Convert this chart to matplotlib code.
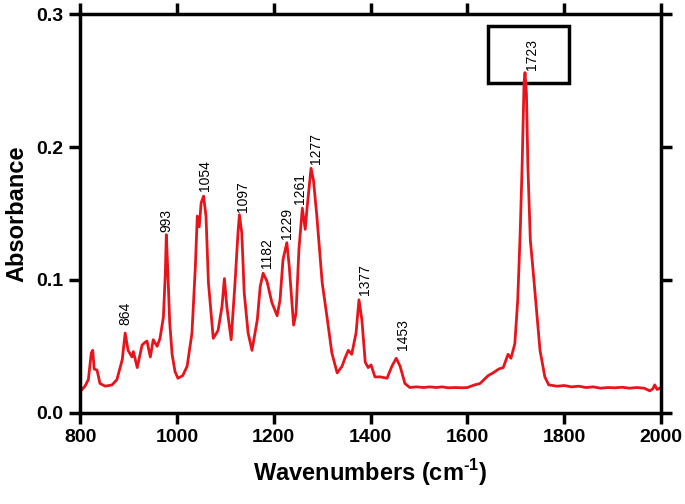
import numpy as np
import matplotlib.pyplot as plt
from matplotlib.patches import Rectangle

# spectrum
wavenumber = [800, 810, 817, 823, 826, 829, 835, 841, 852, 866, 876, 887, 893, 899,
              907, 910, 918, 928, 934, 938, 945, 951, 959, 965, 972, 976, 978, 981,
              985, 990, 996, 1002, 1012, 1021, 1031, 1038, 1042, 1046, 1050, 1055,
              1060, 1065, 1075, 1085, 1093, 1098, 1103, 1112, 1120, 1126, 1129, 1134,
              1139, 1147, 1155, 1166, 1172, 1178, 1186, 1196, 1207, 1213, 1219, 1227,
              1232, 1238, 1241, 1246, 1252, 1259, 1265, 1269, 1277, 1282, 1289, 1300,
              1310, 1320, 1331, 1341, 1347, 1354, 1361, 1370, 1376, 1382, 1389, 1395,
              1401, 1409, 1420, 1434, 1444, 1453, 1461, 1471, 1481, 1495, 1510, 1522,
              1535, 1548, 1560, 1575, 1590, 1600, 1615, 1626, 1643, 1653, 1665, 1674,
              1684, 1690, 1698, 1704, 1709, 1713, 1717, 1719, 1722, 1725, 1730, 1735,
              1744, 1750, 1760, 1768, 1785, 1800, 1815, 1830, 1845, 1860, 1875, 1890,
              1905, 1920, 1935, 1950, 1965, 1977, 1983, 1987, 1992, 2000]
absorbance = [0.016, 0.020, 0.025, 0.045, 0.047, 0.033, 0.032, 0.022, 0.020, 0.021,
              0.025, 0.040, 0.060, 0.047, 0.042, 0.046, 0.034, 0.051, 0.053, 0.054,
              0.042, 0.055, 0.050, 0.056, 0.072, 0.105, 0.134, 0.108, 0.068, 0.044,
              0.031, 0.026, 0.028, 0.035, 0.060, 0.110, 0.148, 0.140, 0.158, 0.163,
              0.148, 0.098, 0.056, 0.062, 0.080, 0.101, 0.080, 0.055, 0.098, 0.135,
              0.149, 0.135, 0.090, 0.060, 0.047, 0.070, 0.095, 0.105, 0.099, 0.083,
              0.073, 0.085, 0.115, 0.128, 0.110, 0.080, 0.066, 0.075, 0.123, 0.154,
              0.138, 0.155, 0.184, 0.175, 0.148, 0.098, 0.072, 0.045, 0.030, 0.035,
              0.041, 0.047, 0.044, 0.060, 0.085, 0.070, 0.038, 0.034, 0.036, 0.027,
              0.027, 0.026, 0.035, 0.041, 0.035, 0.022, 0.019, 0.0195, 0.019, 0.0195,
              0.019, 0.0195, 0.0188, 0.019, 0.0188, 0.019, 0.021, 0.022, 0.028, 0.030,
              0.033, 0.034, 0.044, 0.041, 0.052, 0.085, 0.135, 0.185, 0.248, 0.256,
              0.240, 0.185, 0.130, 0.110, 0.072, 0.047, 0.027, 0.021, 0.020, 0.0205,
              0.0195, 0.020, 0.019, 0.0195, 0.0185, 0.019, 0.0188, 0.0192, 0.0185,
              0.019, 0.0185, 0.0165, 0.018, 0.021, 0.0175, 0.019]

# peak labels (text, x of label, y of label bottom)
peak_text = ["864", "993", "1054", "1097", "1182", "1229", "1261", "1277",
             "1377", "1453", "1723"]
peak_x = [893, 978, 1058, 1136, 1187, 1227, 1254, 1287, 1389, 1467, 1733]
peak_y = [0.066, 0.136, 0.167, 0.151, 0.109, 0.131, 0.157, 0.187, 0.089, 0.047, 0.258]

# box around the carbonyl band
box_x = [1643, 1810]
box_y = [0.248, 0.291]

plt.rcParams['font.family'] = ['Liberation Sans', 'DejaVu Sans']
plt.rcParams['mathtext.fontset'] = 'custom'
plt.rcParams['mathtext.rm'] = 'Liberation Sans:bold'
plt.rcParams['mathtext.bf'] = 'Liberation Sans:bold'

fig = plt.figure(figsize=(6.85, 5.04), dpi=100)
ax = fig.add_axes([0.117, 0.181, 0.848, 0.791])

ax.plot(wavenumber, absorbance, color='#e8141b', linewidth=2.0,
        solid_joinstyle='round')

for t, x, y in zip(peak_text, peak_x, peak_y):
    ax.text(x, y, t, rotation=90, ha='center', va='bottom', fontsize=10)

ax.add_patch(Rectangle((box_x[0], box_y[0]), box_x[1] - box_x[0], box_y[1] - box_y[0],
                       fill=False, edgecolor='black', linewidth=2.5))

ax.set_xlim(800, 2000)
ax.set_ylim(0, 0.3)
ax.set_xticks(np.arange(800, 2001, 200))
ax.set_yticks([0.0, 0.1, 0.2, 0.3])
ax.set_yticklabels(["0.0", "0.1", "0.2", "0.3"])

for s in ax.spines.values():
    s.set_linewidth(2.5)
ax.tick_params(direction='out', length=8, width=2.5, labelsize=14,
               top=True, right=True, pad=4)
for lab in ax.get_xticklabels() + ax.get_yticklabels():
    lab.set_fontweight('bold')

ax.set_xlabel("Wavenumbers (cm$^{\\text{-}\\mathbf{1}}$)", fontsize=17,
              fontweight='bold', labelpad=8)
ax.set_ylabel("Absorbance", fontsize=17, fontweight='bold', labelpad=6)

plt.savefig("out.png", dpi=100)
